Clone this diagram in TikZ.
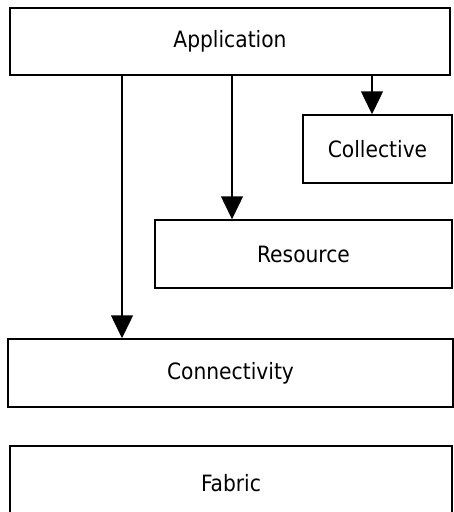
\documentclass[tikz,border=0pt]{standalone}
\usepackage{fontspec}
\setmainfont{DejaVu Sans Condensed}
\usetikzlibrary{arrows.meta, positioning}

\begin{document}
\begin{tikzpicture}[x=1pt,y=-1pt,
		layer/.style={draw, line width=1.5pt, fill=white, inner sep=0pt,
			font=\fontsize{22.5}{26}\selectfont},
		arr/.style={-{Triangle[width=22pt,length=23pt]}, line width=1.5pt}]
	\useasboundingbox (0,0) rectangle (454,512);
	\clip (0,0) rectangle (454,512);

	\node[layer, minimum width=440pt, minimum height=67pt] (app) at (230,41.5) {Application};
	\node[layer, minimum width=149pt, minimum height=68pt] (coll) at (377.5,149) {Collective};
	\node[layer, minimum width=297pt, minimum height=68pt] (res) at (303.5,254) {Resource};
	\node[layer, minimum width=445pt, minimum height=68pt] (conn) at (230.5,373) {Connectivity};
	\node[layer, minimum width=442pt, minimum height=74pt] (fab) at (231,483) {Fabric}; % unten abgeschnitten

	% Pfeile von Application nach unten
	\coordinate (lx) at (122,0);
	\coordinate (mx) at (232,0);
	\coordinate (rx) at (372,0);
	\draw[arr] (app.south -| lx) -- (conn.north -| lx);
	\draw[arr] (app.south -| mx) -- (res.north -| mx);
	\draw[arr] (app.south -| rx) -- (coll.north -| rx);
\end{tikzpicture}
\end{document}
